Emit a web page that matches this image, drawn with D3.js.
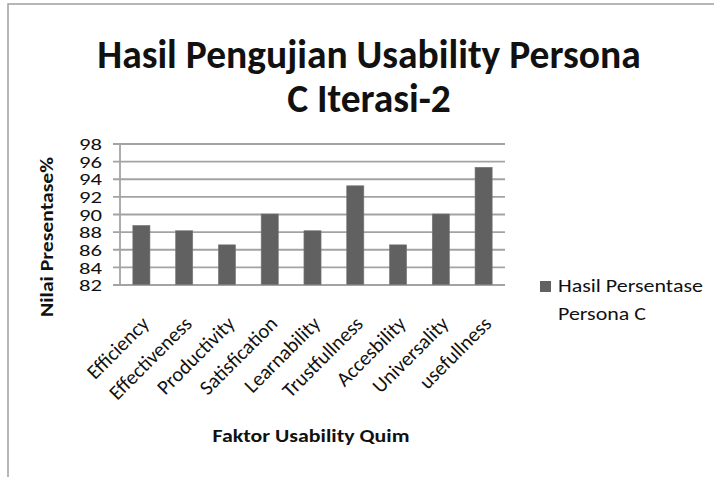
<!DOCTYPE html>
<html>
<head>
<meta charset="utf-8">
<script src="https://cdn.jsdelivr.net/npm/d3@7"></script>
<style>
  body { margin: 0; background: #fff; }
  svg { display: block; font-family: Carlito, Lato, "Open Sans", sans-serif; }
</style>
</head>
<body>
<svg id="chart" width="714" height="477"></svg>
<script>
var categories = ["Efficiency", "Effectiveness", "Productivity", "Satisfication", "Learnability",
  "Trustfullness", "Accesbility", "Universality", "usefullness"];
var values = [88.7, 88.1, 86.5, 90, 88.1, 93.2, 86.5, 90, 95.3];
var yTicks = [82, 84, 86, 88, 90, 92, 94, 96, 98];
var seriesName = ["Hasil Persentase", "Persona C"];
var titleLines = ["Hasil Pengujian Usability Persona", "C Iterasi-2"];

function drawChart(selector) {
  var svg = d3.select(selector);

  // chart area frame (cut off at right and bottom like the screenshot)
  svg.append("rect")
    .attr("x", 8).attr("y", 4)
    .attr("width", 720).attr("height", 490)
    .attr("fill", "#fff")
    .attr("stroke", "#a0a0a0")
    .attr("stroke-width", 1.5);

  var x = d3.scaleBand()
    .domain(categories)
    .range([120, 505])
    .paddingInner(0.6)
    .paddingOuter(0.3);

  var y = d3.scaleLinear()
    .domain([82, 98])
    .range([284.5, 143.5]);

  // gridlines + y axis
  var yAxis = svg.append("g")
    .attr("transform", "translate(120,0)")
    .call(d3.axisLeft(y).tickValues(yTicks).tickSize(-385).tickSizeOuter(0).tickPadding(18));

  yAxis.attr("font-family", null).attr("font-size", null);
  yAxis.select(".domain").remove();
  yAxis.selectAll(".tick line")
    .attr("x1", -7)
    .attr("stroke", "#a3a3a3")
    .attr("stroke-width", 1.8);
  yAxis.selectAll(".tick text")
    .attr("font-size", 17)
    .attr("dy", "0.36em")
    .attr("textLength", 23)
    .attr("lengthAdjust", "spacingAndGlyphs")
    .attr("fill", "#111");

  svg.append("line")
    .attr("x1", 120).attr("x2", 120)
    .attr("y1", y(98)).attr("y2", y(82))
    .attr("stroke", "#a3a3a3")
    .attr("stroke-width", 1.8);

  // bars
  svg.append("g")
    .selectAll("rect")
    .data(values)
    .enter().append("rect")
      .attr("x", function(d, i) { return x(categories[i]); })
      .attr("y", function(d) { return y(d); })
      .attr("width", x.bandwidth())
      .attr("height", function(d) { return y(82) - y(d); })
      .attr("fill", "#616161")
      .attr("stroke", "#777")
      .attr("stroke-width", 0.6);

  // category labels
  svg.append("g")
    .selectAll("text")
    .data(categories)
    .enter().append("text")
      .attr("transform", function(d) {
        return "translate(" + (x(d) + x.bandwidth() / 2 + 9) + ",325) rotate(-45)";
      })
      .attr("text-anchor", "end")
      .attr("font-size", 20.5)
      .attr("fill", "#111")
      .text(function(d) { return d; });

  // title
  svg.append("g")
    .selectAll("text")
    .data(titleLines)
    .enter().append("text")
      .attr("x", 369)
      .attr("y", function(d, i) { return 68 + i * 44; })
      .attr("text-anchor", "middle")
      .attr("font-size", 39.5)
      .attr("font-weight", "bold")
      .attr("fill", "#111")
      .text(function(d) { return d; });

  // axis titles
  svg.append("text")
    .attr("transform", "translate(53,237) rotate(-90)")
    .attr("text-anchor", "middle")
    .attr("font-size", 17)
    .attr("font-weight", "bold")
    .attr("fill", "#111")
    .attr("textLength", 160)
    .attr("lengthAdjust", "spacingAndGlyphs")
    .text("Nilai Presentase%");

  svg.append("text")
    .attr("x", 311)
    .attr("y", 442)
    .attr("text-anchor", "middle")
    .attr("font-size", 19)
    .attr("font-weight", "bold")
    .attr("fill", "#111")
    .attr("textLength", 197)
    .attr("lengthAdjust", "spacingAndGlyphs")
    .text("Faktor Usability Quim");

  // legend
  var legend = svg.append("g");
  legend.append("rect")
    .attr("x", 540).attr("y", 281)
    .attr("width", 11).attr("height", 11)
    .attr("fill", "#616161");
  legend.selectAll("text")
    .data(seriesName)
    .enter().append("text")
      .attr("x", 558)
      .attr("y", function(d, i) { return 292 + i * 28; })
      .attr("font-size", 18.5)
      .attr("fill", "#111")
      .attr("textLength", function(d, i) { return i ? 88 : 145; })
      .attr("lengthAdjust", "spacingAndGlyphs")
      .text(function(d) { return d; });
}

drawChart("#chart");
</script>
</body>
</html>
